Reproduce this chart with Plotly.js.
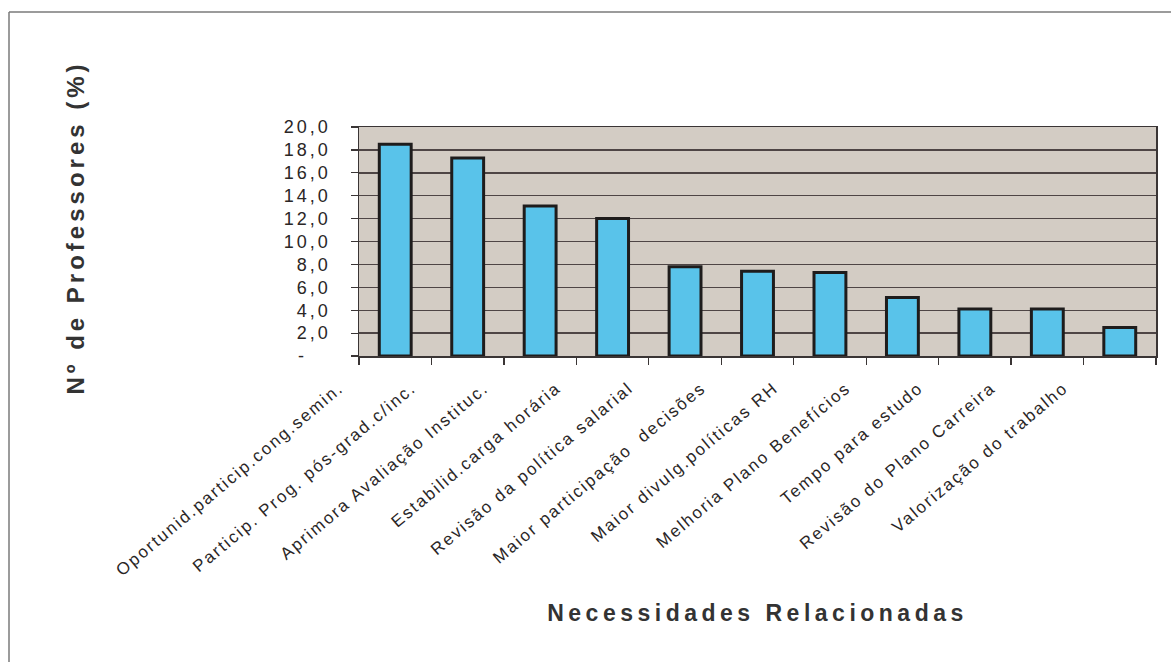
<!DOCTYPE html>
<html>
<head>
<meta charset="utf-8">
<script src="https://cdn.plot.ly/plotly-3.0.1.min.js"></script>
<style>
  html, body { margin: 0; padding: 0; background: #ffffff; }
  #chart { width: 1171px; height: 662px; }
  /* the printed labels run wide, with open spacing between letters */
  .ytick text { letter-spacing: 3px; }
  .xtick text { letter-spacing: 2px; }
  text.xtitle { letter-spacing: 4.5px; }
  text.ytitle { letter-spacing: 4px; }
  /* the vertical title sits a little above the middle of the axis */
  g.g-ytitle { transform: translate(0px, -14px); }
</style>
</head>
<body>
<div id="chart"></div>
<script>
// Needs cited by the teachers, share of respondents (%)
const categories = [
  "Oportunid.particip.cong.semin.",
  "Particip. Prog. pós-grad.c/inc.",
  "Aprimora Avaliação Instituc.",
  "Estabilid.carga horária",
  "Revisão da política salarial",
  "Maior participação  decisões",
  "Maior divulg.políticas RH",
  "Melhoria Plano Benefícios",
  "Tempo para estudo",
  "Revisão do Plano Carreira",
  "Valorização do trabalho"
];
const percentages = [18.5, 17.3, 13.1, 12.0, 7.8, 7.4, 7.3, 5.1, 4.1, 4.1, 2.5];

const yTickVals = [0, 2, 4, 6, 8, 10, 12, 14, 16, 18, 20];
const yTickText = ["-\u00a0\u00a0\u00a0", "2,0", "4,0", "6,0", "8,0", "10,0", "12,0", "14,0", "16,0", "18,0", "20,0"];

const yTitle = "Nº de Professores (%)";
const xTitle = "Necessidades Relacionadas";

// plot-area geometry in pixels, used to place the outer frame lines
const W = 1171, H = 662;
const M = { l: 359, r: 15, t: 127, b: 306 };
const pw = W - M.l - M.r, ph = H - M.t - M.b;
const px = v => (v - M.l) / pw;
const py = v => (H - M.b - v) / ph;

const trace = {
  type: "bar",
  x: categories,
  y: percentages,
  marker: {
    color: "#59c3ea",
    line: { color: "#1e1c1c", width: 3 }
  },
  hoverinfo: "x+y"
};

const layout = {
  width: W,
  height: H,
  margin: M,
  paper_bgcolor: "#ffffff",
  plot_bgcolor: "#d3ccc4",
  showlegend: false,
  bargap: 0.56,
  font: { family: "Liberation Sans, Arial, sans-serif", color: "#2a2626" },
  xaxis: {
    type: "category",
    tickson: "boundaries",
    ticks: "outside",
    ticklen: 7,
    tickwidth: 1.2,
    tickcolor: "#3a3535",
    tickangle: -40,
    ticklabelshift: -56,
    ticklabelstandoff: 14,
    tickfont: { size: 17, color: "#2a2626" },
    showline: true,
    linecolor: "#3a3535",
    linewidth: 1.5,
    mirror: true,
    showgrid: false,
    automargin: true,
    title: {
      text: xTitle,
      font: { size: 23, weight: "bold", color: "#333" },
      standoff: 26
    }
  },
  yaxis: {
    range: [0, 20],
    tickvals: yTickVals,
    ticktext: yTickText,
    ticks: "outside",
    ticklen: 7,
    tickwidth: 1.2,
    tickcolor: "#3a3535",
    tickfont: { size: 18, color: "#2a2626" },
    ticklabelstandoff: 16,
    showline: true,
    linecolor: "#3a3535",
    linewidth: 1.5,
    mirror: true,
    showgrid: true,
    gridcolor: "#4e4545",
    gridwidth: 1.4,
    zeroline: false,
    automargin: true,
    title: {
      text: yTitle,
      font: { size: 24, weight: "bold", color: "#333" },
      standoff: 192
    }
  },
  shapes: [
    // outer chart frame: left and top edges
    { type: "line", xref: "paper", yref: "paper",
      x0: px(9), x1: px(9), y0: py(12), y1: py(H),
      line: { color: "#7a7a7a", width: 1.5 } },
    { type: "line", xref: "paper", yref: "paper",
      x0: px(9), x1: px(W), y0: py(12), y1: py(12),
      line: { color: "#7a7a7a", width: 1.5 } }
  ]
};

Plotly.newPlot("chart", [trace], layout, { displayModeBar: false, staticPlot: true });
</script>
</body>
</html>
